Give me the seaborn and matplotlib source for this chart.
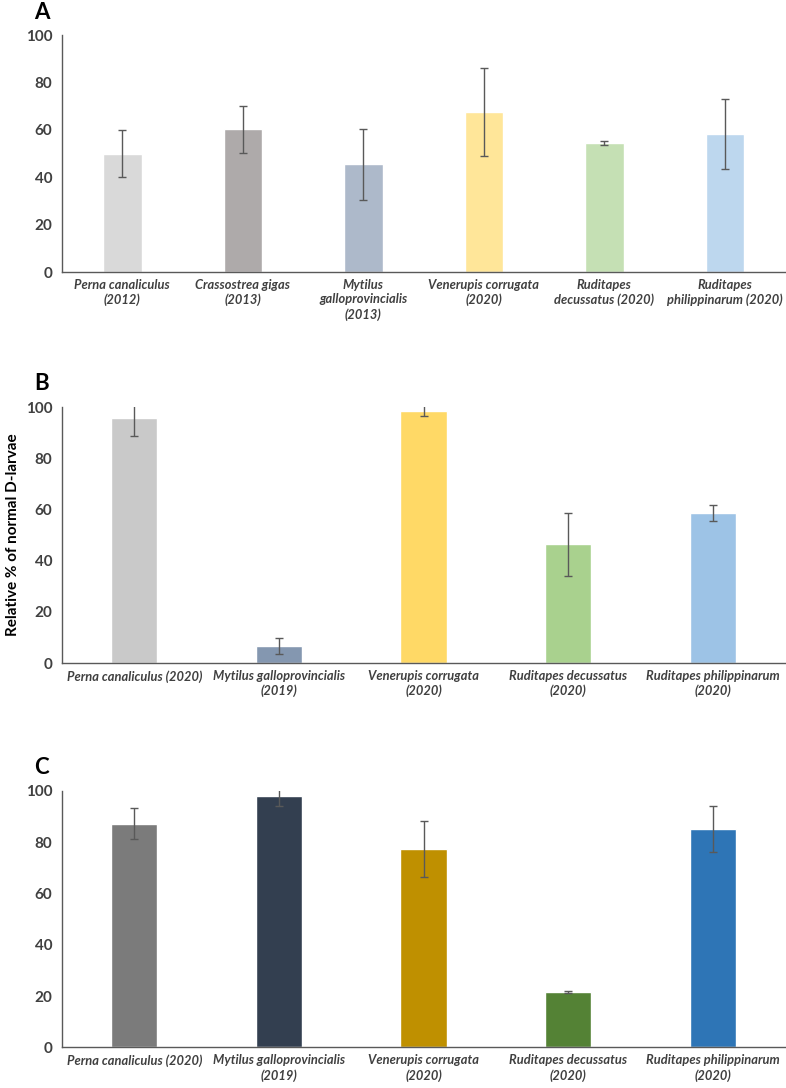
"""Relative % of normal D-larvae for bivalve species, three panels."""

import matplotlib.pyplot as plt
import numpy as np
import pandas as pd
import seaborn as sns
from matplotlib.ticker import FixedLocator

# 面板A 数据
labels_a = [
    "Perna canaliculus\n(2012)",
    "Crassostrea gigas\n(2013)",
    "Mytilus\ngalloprovincialis\n(2013)",
    "Venerupis corrugata\n(2020)",
    "Ruditapes\ndecussatus (2020)",
    "Ruditapes\nphilippinarum (2020)",
]
values_a = [50.0, 60.2, 45.5, 67.6, 54.3, 58.2]
errors_a = [10.0, 9.8, 15.0, 18.5, 0.9, 14.7]
colors_a = ["#d9d9d9", "#aeaaaa", "#adb9ca", "#ffe699", "#c5e0b4", "#bdd7ee"]

# 面板B 数据
labels_b = [
    "Perna canaliculus (2020)",
    "Mytilus galloprovincialis\n(2019)",
    "Venerupis corrugata\n(2020)",
    "Ruditapes decussatus\n(2020)",
    "Ruditapes philippinarum\n(2020)",
]
values_b = [95.6, 6.6, 98.6, 46.3, 58.6]
errors_b = [6.8, 3.1, 2.2, 12.4, 3.0]
colors_b = ["#c9c9c9", "#8497b0", "#ffd966", "#a9d18e", "#9dc3e6"]

# 面板C 数据
labels_c = [
    "Perna canaliculus (2020)",
    "Mytilus galloprovincialis\n(2019)",
    "Venerupis corrugata\n(2020)",
    "Ruditapes decussatus\n(2020)",
    "Ruditapes philippinarum\n(2020)",
]
values_c = [87.3, 98.0, 77.4, 21.5, 85.3]
errors_c = [6.1, 3.8, 10.8, 0.4, 9.0]
colors_c = ["#7b7b7b", "#333f50", "#bf9000", "#548235", "#2e75b6"]

sns.set_style("white")
plt.rcParams["font.family"] = ["Lato", "DejaVu Sans"]

AXIS_COLOR = "#595959"
TEXT_COLOR = "#404040"

fig = plt.figure(figsize=(7.86, 10.88), dpi=100)
ax_a = fig.add_axes([0.0789, 0.750, 0.920, 0.2178])
ax_b = fig.add_axes([0.0789, 0.3906, 0.920, 0.2353])
ax_c = fig.add_axes([0.0789, 0.0374, 0.920, 0.2356])


def draw_panel(ax, labels, values, errors, colors, letter):
    df = pd.DataFrame({"species": labels, "value": values})
    sns.barplot(
        data=df,
        x="species",
        y="value",
        hue="species",
        palette=colors,
        width=0.32,
        legend=False,
        errorbar=None,
        saturation=1,
        ax=ax,
    )
    n = len(labels)
    ax.errorbar(
        np.arange(n),
        values,
        yerr=errors,
        fmt="none",
        ecolor=AXIS_COLOR,
        elinewidth=1,
        capsize=3,
        capthick=1,
    )
    ax.set_xlim(-0.5, n - 0.5)
    ax.set_ylim(0, 100)
    ax.set_yticks(range(0, 101, 20))
    ax.set_xlabel("")
    ax.set_ylabel("")

    # 刻度线放在类别之间
    ax.xaxis.set_minor_locator(FixedLocator(np.arange(n + 1) - 0.5))
    ax.tick_params(axis="x", which="major", length=0, pad=5)
    ax.tick_params(axis="x", which="minor", length=4, width=1, color=AXIS_COLOR, direction="out")
    ax.tick_params(axis="y", length=4, width=1, color=AXIS_COLOR, direction="out", pad=3)
    for lab in ax.get_xticklabels():
        lab.set_fontsize(9.3)
        lab.set_fontweight("bold")
        lab.set_fontstyle("italic")
        lab.set_color(TEXT_COLOR)
        lab.set_linespacing(1.25)
    for lab in ax.get_yticklabels():
        lab.set_fontsize(11)
        lab.set_fontweight("bold")
        lab.set_color(TEXT_COLOR)

    sns.despine(ax=ax)
    for side in ["left", "bottom"]:
        ax.spines[side].set_color(AXIS_COLOR)
        ax.spines[side].set_linewidth(1)

    ax.text(
        -0.038,
        1.068,
        letter,
        transform=ax.transAxes,
        fontsize=16,
        fontweight="bold",
        color="black",
        ha="left",
        va="baseline",
    )


draw_panel(ax_a, labels_a, values_a, errors_a, colors_a, "A")
draw_panel(ax_b, labels_b, values_b, errors_b, colors_b, "B")
draw_panel(ax_c, labels_c, values_c, errors_c, colors_c, "C")

ax_b.set_ylabel(
    "Relative % of normal D-larvae",
    fontsize=11,
    fontweight="bold",
    color="black",
    labelpad=4,
)

fig.savefig("out.png", dpi=100)
